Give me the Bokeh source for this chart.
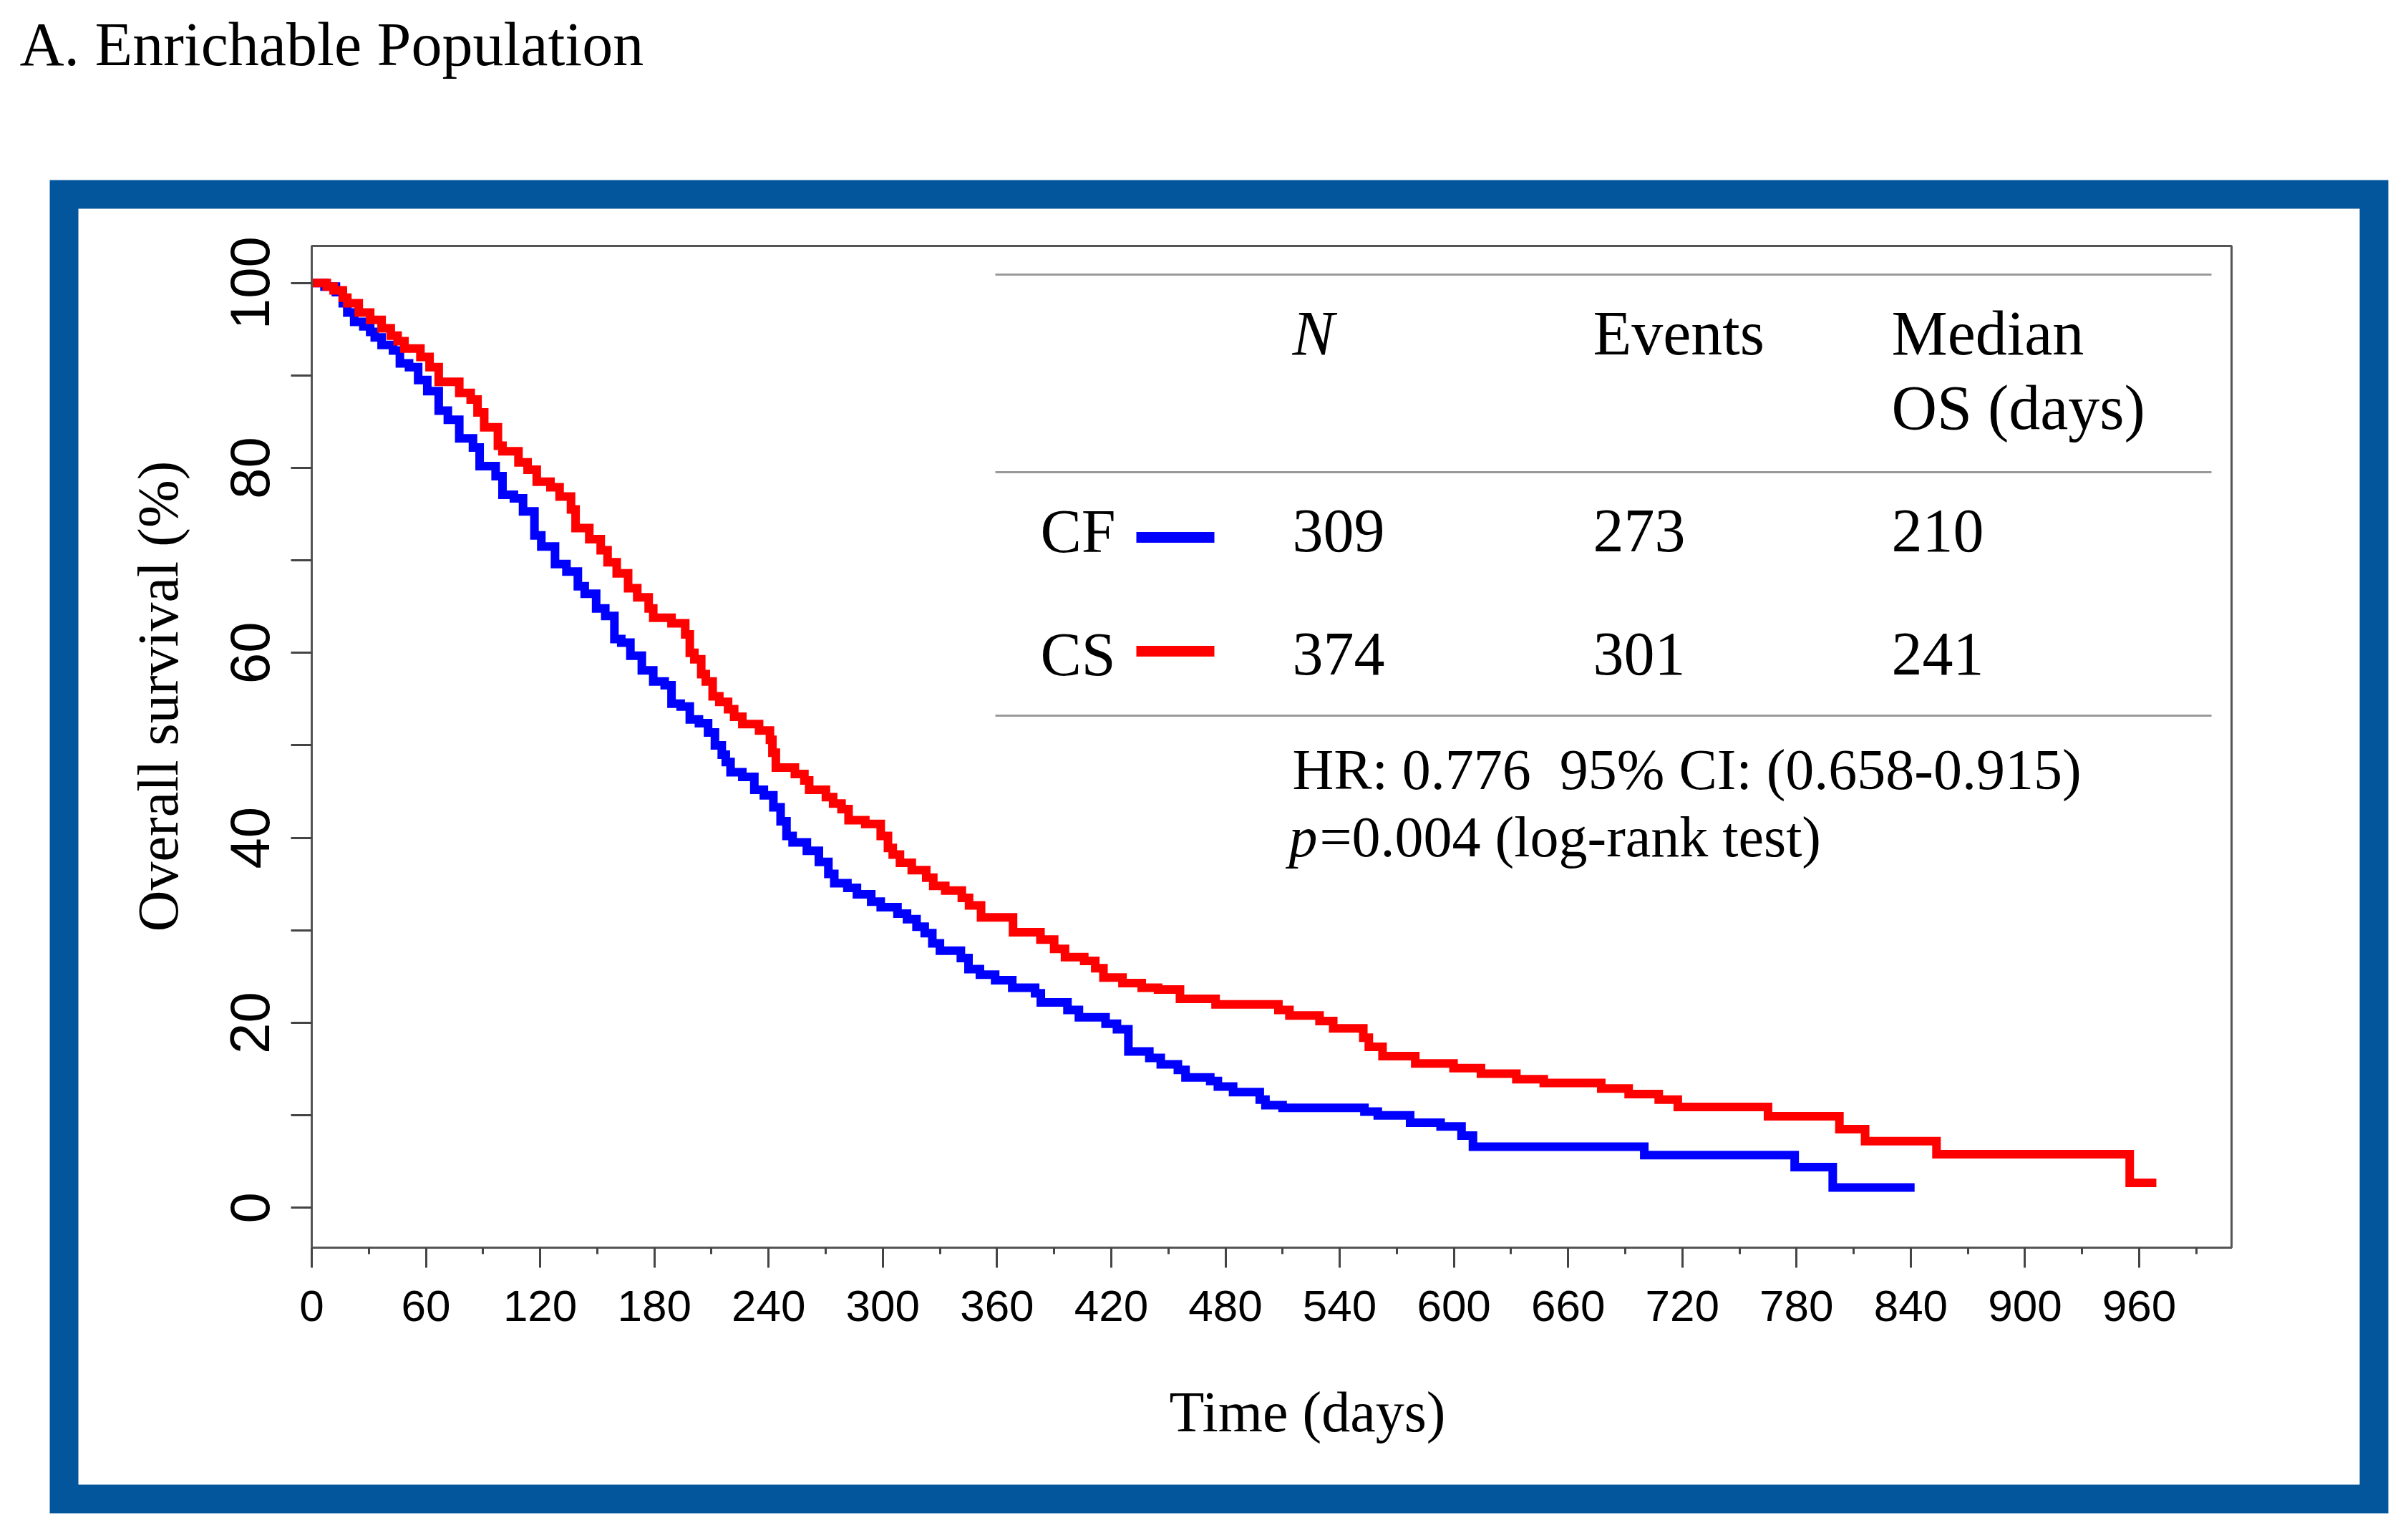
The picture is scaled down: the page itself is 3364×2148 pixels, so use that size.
from math import pi
from bokeh.plotting import figure
from bokeh.models import Range1d, FixedTicker, Label
from bokeh.embed import file_html
from bokeh.resources import INLINE

# ---------------- data ----------------
cf_time = [0, 6.7, 12.7, 16.3, 18.7, 22.3, 27.1, 30.7, 33.1, 36.7, 42.7, 46.3, 51.1, 55.9, 60.7,
           66.7, 71.5, 77.5, 84.7, 88.2, 96.6, 100.2, 106.2, 111, 117, 120.6, 127.8, 133.8, 139.8,
           143.4, 149.4, 154.2, 159, 162.6, 167.4, 173.4, 179.4, 185.4, 189, 193.8, 198.6, 203.4,
           208.2, 211.8, 215.4, 217.5, 220, 226.2, 232.5, 237.5, 242.5, 246.3, 249.4, 252.6, 260.1,
           266.4, 271.4, 274.5, 281.4, 286.4, 293.9, 298.9, 307.7, 312.7, 317.7, 322, 326, 330, 341,
           345, 351, 359, 368, 380, 383, 397, 403, 417, 423, 429, 440, 446, 455, 459, 472, 476, 484,
           498, 501, 510, 553, 560, 577, 593, 604, 610, 700, 779, 799]
cf_surv = [100, 99.6, 99.0, 97.8, 96.8, 95.8, 95.3, 94.7, 94.1, 93.3, 92.7, 91.3, 90.9, 89.5, 88.3,
           86.2, 85.2, 83.2, 82.2, 80.2, 79.1, 77.1, 76.7, 75.3, 72.7, 71.5, 69.6, 68.8, 67.2,
           66.4, 64.8, 64.0, 61.5, 61.1, 59.7, 58.1, 56.9, 56.5, 54.5, 54.2, 52.8, 52.4,
           51.4, 50.0, 49.0, 48.2, 47.1, 46.6, 45.2, 44.6, 43.3, 41.8, 40.2, 39.5, 38.6,
           37.4, 36.1, 35.1, 34.6, 33.9, 33.1, 32.5, 31.8, 31.2, 30.4, 29.7, 28.6, 27.8, 27.0,
           25.8, 25.2, 24.6, 23.8, 23.2, 22.2, 21.4, 20.6, 19.9, 19.3, 16.9, 16.2, 15.5, 14.9, 14.1, 13.7, 13.1, 12.5,
           11.7, 11.1, 10.8, 10.4, 10.0, 9.2, 8.8, 7.8, 6.6, 5.7, 4.4, 2.2]
cf_last_time = 842

cs_time = [0, 7.9, 11.5, 16.3, 18.7, 24.7, 30.7, 36.7, 41.5, 45.1, 48.7, 57.1, 61.9, 66.7, 77.5,
           83.5, 87.1, 90.6, 97.8, 100.2, 108.6, 113.4, 118.2, 125.4, 130.2, 136.2, 138.6, 145.8,
           151.8, 155.4, 160.2, 166.2, 171, 177, 179.4, 189, 196.2, 198.6, 201, 204.6, 207, 210.6,
           214.1, 218.7, 221.9, 226.2, 235, 240.7, 242, 243.8, 253.8, 258.8, 261.3, 270.1, 273.9,
           278.3, 282, 290.8, 298.9, 302.7, 305.2, 309, 315.2, 322.8, 326.5, 332.8, 341.5, 345.3,
           351.6, 368.4, 382.8, 390, 395.7, 405.8, 411.6, 415.9, 425.9, 436, 444.6, 456.1, 474.8,
           507.8, 513.6, 529.4, 536.6, 552.4, 555.3, 562.5, 579.7, 599.8, 614.2, 632.8, 647.2,
           677.4, 691.8, 707.6, 717.6, 765, 802.5, 816, 853.5, 955]
cs_surv = [100, 99.6, 99.2, 98.4, 97.8, 96.8, 96.0, 95.1, 94.3, 93.7, 92.9, 92.0, 90.9, 89.3, 88.1,
           87.4, 86.0, 84.4, 82.4, 81.8, 80.6, 79.8, 78.5, 77.9, 76.9, 75.5, 73.5, 72.3,
           71.1, 69.8, 68.6, 67.0, 66.0, 64.8, 63.8, 63.2, 62.0, 60.0, 59.3, 57.7, 56.9, 55.3,
           54.7, 53.9, 53.1, 52.3, 51.6, 50.6, 49.2, 47.6, 46.9, 46.2, 45.2, 44.4, 43.7,
           43.1, 41.9, 41.5, 40.2, 38.9, 38.2, 37.3, 36.5, 35.7, 34.8, 34.3, 33.5, 32.7,
           31.4, 29.8, 29.0, 28.0, 27.1, 26.7, 25.9, 24.9, 24.3, 23.8, 23.6, 22.6, 22.0,
           21.4, 20.8, 20.2, 19.4, 18.4, 17.4, 16.4, 15.6, 15.1, 14.5, 13.9, 13.5,
           12.9, 12.3, 11.7, 10.9, 9.9, 8.5, 7.2, 5.8, 2.7]
cs_last_time = 969

groups = ["CF", "CS"]
group_colors = ["#0000ff", "#ff0000"]
n_patients = [309, 374]
n_events = [273, 301]
median_os = [210, 241]
hr_text = "HR: 0.776 \u00a095% CI: (0.658-0.915)"
p_value_text = "=0.004 (log-rank test)"

x_ticks = list(range(0, 961, 60))
x_minor_ticks = list(range(30, 991, 60))
y_ticks = [0, 20, 40, 60, 80, 100]
y_minor_ticks = [10, 30, 50, 70, 90]

title_text = "A. Enrichable Population"
x_label = "Time (days)"
y_label = "Overall survival (%)"

# ---------------- layout ----------------
W, H = 3348, 2132
PLOT_X = (0, 1008.5)        # data extent of the plot box
PLOT_Y = (-4.31, 104.0)
BOX_PX = (435, 3117)        # pixels of the plot box (left, right)
BOX_PY = (343, 1742)        # pixels of the plot box (top, bottom)
BASE_K = 0.39               # baseline correction for labels (em)

sx = (BOX_PX[1] - BOX_PX[0]) / (PLOT_X[1] - PLOT_X[0])
sy = (BOX_PY[1] - BOX_PY[0]) / (PLOT_Y[1] - PLOT_Y[0])
X_START = PLOT_X[0] - BOX_PX[0] / sx
X_END = PLOT_X[1] + (W - BOX_PX[1]) / sx
Y_END = PLOT_Y[1] + BOX_PY[0] / sy
Y_START = PLOT_Y[0] - (H - BOX_PY[1]) / sy


def xd(px):
    return PLOT_X[0] + (px - BOX_PX[0]) / sx


def yd(py):
    return PLOT_Y[0] + (BOX_PY[1] - py) / sy


SERIF = "Liberation Serif"

p = figure(width=W, height=H, output_backend="svg", toolbar_location=None,
           x_range=Range1d(X_START, X_END), y_range=Range1d(Y_START, Y_END),
           min_border_left=0, min_border_right=0, min_border_top=0, min_border_bottom=0)
p.grid.visible = False
p.background_fill_color = "white"
p.border_fill_color = "white"
p.outline_line_color = None

# plot box
p.quad(left=[PLOT_X[0]], right=[PLOT_X[1]], bottom=[PLOT_Y[0]], top=[PLOT_Y[1]],
       fill_color=None, line_color="#555555", line_width=3)

# x axis
xa = p.xaxis[0]
xa.fixed_location = PLOT_Y[0]
xa.bounds = PLOT_X
xa.ticker = FixedTicker(ticks=x_ticks, minor_ticks=x_minor_ticks)
xa.axis_line_color = "#555555"
xa.axis_line_width = 3
xa.major_tick_line_color = "#444444"
xa.major_tick_line_width = 3
xa.major_tick_in = 0
xa.major_tick_out = 28
xa.minor_tick_line_color = "#444444"
xa.minor_tick_line_width = 3
xa.minor_tick_in = 0
xa.minor_tick_out = 9
xa.major_label_text_font = "Liberation Sans"
xa.major_label_text_font_size = "62px"
xa.major_label_text_color = "black"
xa.major_label_standoff = 32

# y axis
ya = p.yaxis[0]
ya.fixed_location = PLOT_X[0]
ya.bounds = PLOT_Y
ya.ticker = FixedTicker(ticks=y_ticks, minor_ticks=y_minor_ticks)
ya.axis_line_color = "#555555"
ya.axis_line_width = 3
ya.major_tick_line_color = "#444444"
ya.major_tick_line_width = 3
ya.major_tick_in = 0
ya.major_tick_out = 29
ya.minor_tick_line_color = "#444444"
ya.minor_tick_line_width = 3
ya.minor_tick_in = 0
ya.minor_tick_out = 29
ya.major_label_orientation = "vertical"
ya.major_label_text_font = "Liberation Sans"
ya.major_label_text_font_size = "78px"
ya.major_label_text_color = "black"
ya.major_label_standoff = 30

# KM curves
for t, s, t_end, col in [(cf_time, cf_surv, cf_last_time, group_colors[0]),
                         (cs_time, cs_surv, cs_last_time, group_colors[1])]:
    p.step(x=t + [t_end], y=s + [s[-1]], mode="after", line_color=col,
           line_width=12, line_join="miter")

# blue outer frame
p.quad(left=[xd(89)], right=[xd(3316)], top=[yd(271)], bottom=[yd(2093)],
       fill_color=None, line_color="#03559c", line_width=40, line_join="miter")


def txt(px, py, s, size=86, style="normal", align="left"):
    """Place text with its baseline at pixel row py."""
    p.add_layout(Label(x=xd(px), y=yd(py - BASE_K * size), text=s, text_font=SERIF,
                       text_font_style=style, text_font_size=f"{size}px", text_align=align,
                       text_baseline="alphabetic", text_color="black"))


# title and axis labels
txt(27, 95, title_text, size=86)
txt(1826, 2003, x_label, size=80, align="center")
p.add_layout(Label(x=xd(252 - BASE_K * 80), y=yd(972), text=y_label, text_font=SERIF,
                   angle=pi / 2, text_font_size="80px", text_align="center",
                   text_baseline="alphabetic", text_color="black"))

# ---------------- table inset ----------------
rule_ys = [yd(383), yd(659), yd(999)]
p.segment(x0=[xd(1390)] * 3, y0=rule_ys, x1=[xd(3089)] * 3, y1=rule_ys,
          line_color="#9a9a9a", line_width=3)

col_px = [1805, 2225, 2642]
txt(col_px[0], 499, "N", size=88, style="italic")
txt(col_px[1], 499, "Events", size=88)
txt(col_px[2], 499, "Median", size=88)
txt(col_px[2], 603, "OS (days)", size=88)

row_base = [775, 947]
row_swatch = [yd(750), yd(909)]
for i, g in enumerate(groups):
    txt(1453, row_base[i], g, size=86)
    for j, v in enumerate([n_patients[i], n_events[i], median_os[i]]):
        txt(col_px[j], row_base[i], str(v), size=86)
p.segment(x0=[xd(1587)] * 2, y0=row_swatch, x1=[xd(1696)] * 2, y1=row_swatch,
          line_color=group_colors, line_width=15)

txt(col_px[0], 1106, hr_text, size=80)
txt(1800, 1200, "p", size=80, style="italic")
txt(1843, 1200, p_value_text, size=80)

open("out.html", "w").write(file_html(p, INLINE))
